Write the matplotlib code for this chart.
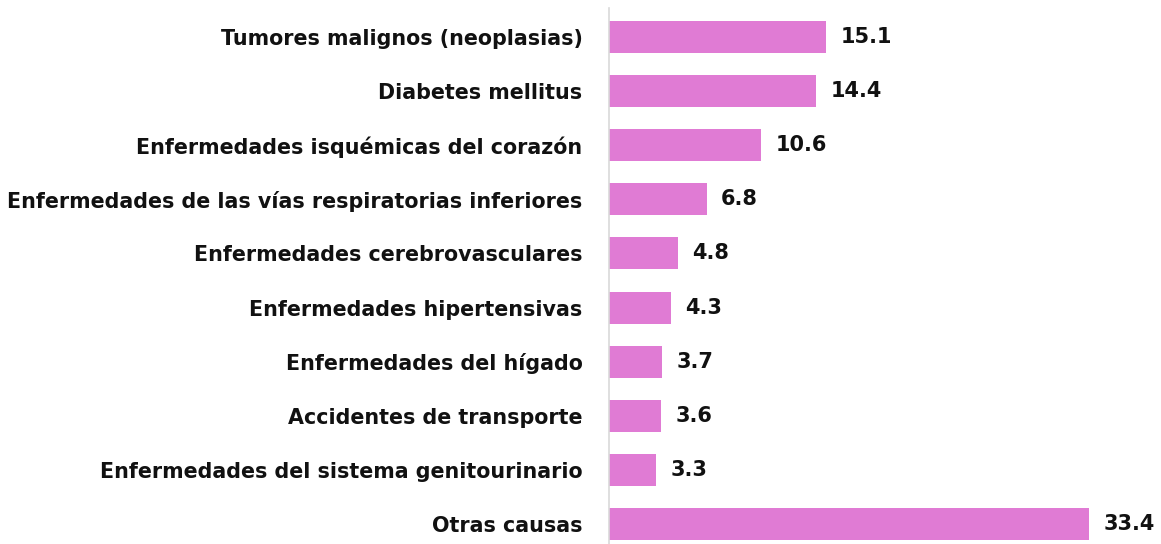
import matplotlib
matplotlib.use('Agg')
import matplotlib.pyplot as plt

# Causes of death (percent)
causes = [
    'Tumores malignos (neoplasias)',
    'Diabetes mellitus',
    'Enfermedades isquémicas del corazón',
    'Enfermedades de las vías respiratorias inferiores',
    'Enfermedades cerebrovasculares',
    'Enfermedades hipertensivas',
    'Enfermedades del hígado',
    'Accidentes de transporte',
    'Enfermedades del sistema genitourinario',
    'Otras causas',
]
values = [15.1, 14.4, 10.6, 6.8, 4.8, 4.3, 3.7, 3.6, 3.3, 33.4]

bar_color = '#E07BD4'

fig = plt.figure(figsize=(11.61, 5.44), dpi=100)
ax = fig.add_axes([609 / 1161, 0, 1 - 609 / 1161, 1 - 8 / 544])

ypos = list(range(len(causes)))
ax.barh(ypos, values, height=0.59, color=bar_color)

# value labels
for y, v in zip(ypos, values):
    ax.text(v + 1.0, y, f'{v:.1f}', va='center', ha='left',
            fontsize=15, fontweight='bold', color='#111111')

ax.set_yticks(ypos)
ax.set_yticklabels(causes, fontsize=14.9, fontweight='bold', color='#111111')
ax.tick_params(axis='y', length=0, pad=19)
ax.set_xticks([])

ax.set_xlim(0, 38.4)
ax.set_ylim(9 + 0.37, -0.536)

for s in ['top', 'right', 'bottom']:
    ax.spines[s].set_visible(False)
ax.spines['left'].set_color('#D9D9D9')
ax.spines['left'].set_linewidth(1.2)

fig.savefig('out.png', dpi=100)
